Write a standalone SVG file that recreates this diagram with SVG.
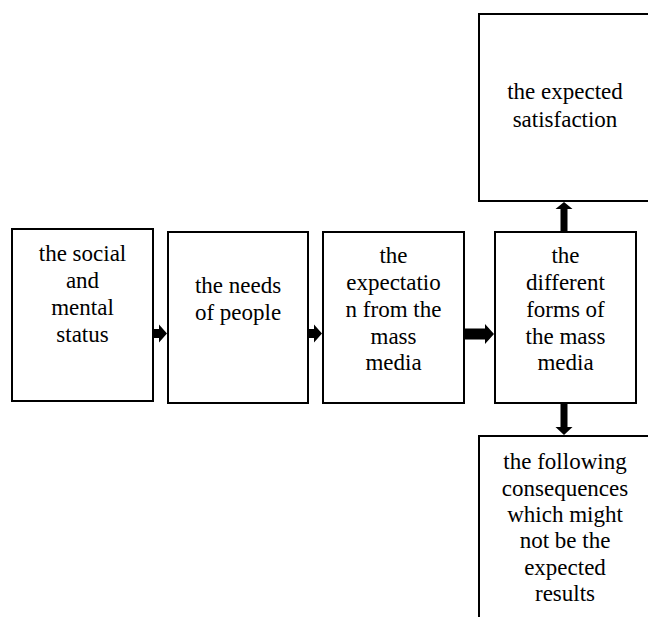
<svg xmlns="http://www.w3.org/2000/svg" width="648" height="617" viewBox="0 0 648 617">
<style>
.box{fill:#fff;stroke:#000;stroke-width:2}
.t{font-family:"Liberation Serif","Times New Roman",serif;font-size:23px;fill:#000;text-anchor:middle}
.arr{fill:#000}
</style>
<rect width="648" height="617" fill="#fff"/>
<g id="n1"><rect class="box" x="12" y="229" width="141" height="172"/>
<text class="t"><tspan x="82.5" y="260.5">the social</tspan><tspan x="82.5" y="287.5">and</tspan><tspan x="82.5" y="314.5">mental</tspan><tspan x="82.5" y="341.5">status</tspan></text></g>
<g id="n2"><rect class="box" x="168" y="232" width="140" height="171"/>
<text class="t"><tspan x="238" y="293">the needs</tspan><tspan x="238" y="320">of people</tspan></text></g>
<g id="n3"><rect class="box" x="323" y="232" width="141" height="171"/>
<text class="t"><tspan x="393.5" y="263">the</tspan><tspan x="393.5" y="290">expectatio</tspan><tspan x="393.5" y="317">n from the</tspan><tspan x="393.5" y="343.5">mass</tspan><tspan x="393.5" y="370">media</tspan></text></g>
<g id="n4"><rect class="box" x="495" y="232" width="141" height="171"/>
<text class="t"><tspan x="565.5" y="263">the</tspan><tspan x="565.5" y="290">different</tspan><tspan x="565.5" y="317">forms of</tspan><tspan x="565.5" y="343.5">the mass</tspan><tspan x="565.5" y="370">media</tspan></text></g>
<g id="n5"><rect class="box" x="479" y="14" width="174" height="187"/>
<text class="t"><tspan x="565" y="98.5">the expected</tspan><tspan x="565" y="126.5">satisfaction</tspan></text></g>
<g id="n6"><rect class="box" x="479" y="436" width="174" height="200"/>
<text class="t"><tspan x="565" y="469">the following</tspan><tspan x="565" y="495.5">consequences</tspan><tspan x="565" y="521.5">which might</tspan><tspan x="565" y="548">not be the</tspan><tspan x="565" y="574.5">expected</tspan><tspan x="565" y="601">results</tspan></text></g>
<g id="connectors">
<polygon class="arr" points="153,329 159,329 159,324.5 167,333.5 159,342.5 159,338 153,338"/>
<polygon class="arr" points="308,329 314,329 314,324.5 322,333.5 314,342.5 314,338 308,338"/>
<polygon class="arr" points="464,328.5 485,328.5 485,324 494,334 485,344 485,339.5 464,339.5"/>
<polygon class="arr" points="560.5,231 560.5,209 555.5,209 564,202 572.5,209 567.5,209 567.5,231"/>
<polygon class="arr" points="560.5,404 560.5,427 555.5,427 564,435 572.5,427 567.5,427 567.5,404"/>
</g>
</svg>
